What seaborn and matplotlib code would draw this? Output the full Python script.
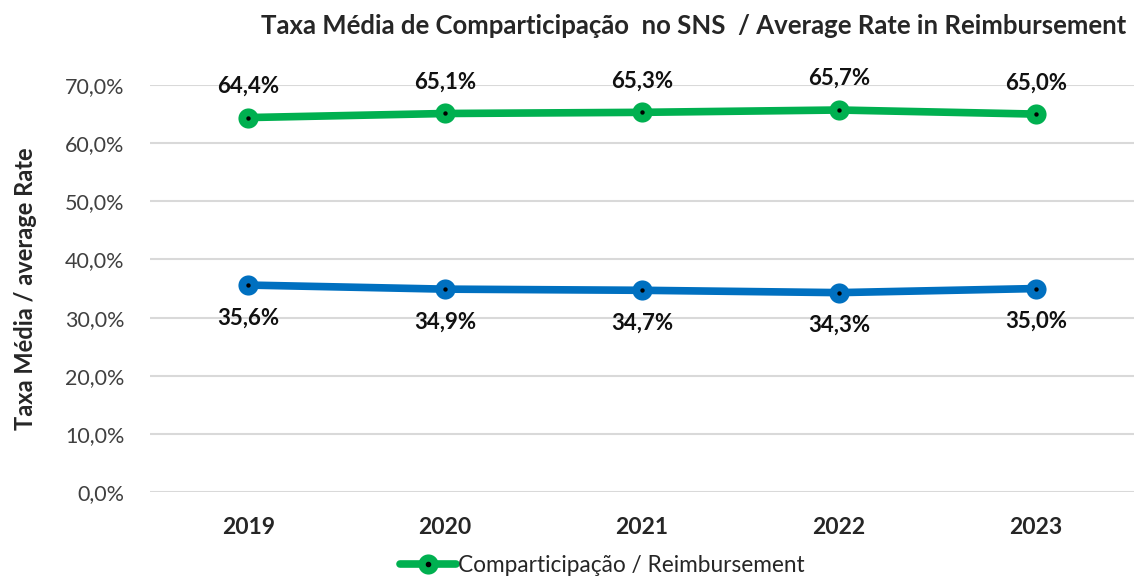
import pandas as pd
import matplotlib
import matplotlib.pyplot as plt
import seaborn as sns
from matplotlib.lines import Line2D
from matplotlib.ticker import FuncFormatter

matplotlib.use('Agg')

# values
years = ['2019', '2020', '2021', '2022', '2023']
reimbursement = [64.4, 65.1, 65.3, 65.7, 65.0]
user_share = [35.6, 34.9, 34.7, 34.3, 35.0]

green = '#00B050'
blue = '#0070C0'

df = pd.DataFrame({
    'Ano': years * 2,
    'Taxa': [v / 100 for v in reimbursement + user_share],
    'Serie': ['reimb'] * 5 + ['user'] * 5,
})

sns.set_style('white')
plt.rcParams['font.family'] = ['Lato', 'DejaVu Sans']

fig = plt.figure(figsize=(11.43, 5.81), dpi=100)
ax = fig.add_axes([0.131, 0.153, 0.8615, 0.7007])

sns.lineplot(data=df, x='Ano', y='Taxa', hue='Serie',
             palette={'reimb': green, 'user': blue},
             linewidth=5.5, marker='o', markersize=14.5, markeredgewidth=0,
             legend=False, ax=ax, zorder=3)
# small black dot at the centre of each marker
sns.scatterplot(data=df, x='Ano', y='Taxa', color='black', s=10,
                linewidth=0, legend=False, ax=ax, zorder=4)

ax.set_ylim(0, 0.70)
ax.set_xlim(-0.5, 4.5)
ax.set_yticks([i / 10 for i in range(8)])
ax.yaxis.set_major_formatter(FuncFormatter(lambda v, p: f'{v * 100:.1f}%'.replace('.', ',')))
ax.grid(axis='y', color='#D9D9D9', linewidth=1.5)
ax.grid(axis='x', visible=False)
for s in ax.spines.values():
    s.set_visible(False)
ax.tick_params(axis='y', labelsize=15.5, labelcolor='#404040', length=0, pad=18)
ax.tick_params(axis='x', labelsize=16.5, length=0, pad=18)
for t in ax.get_xticklabels():
    t.set_fontweight('bold')

ax.set_xlabel('')
ax.set_ylabel('Taxa Média / average Rate', fontsize=17, fontweight='bold', labelpad=20)

# data labels
for i, v in enumerate(reimbursement):
    ax.annotate(f'{v:.1f}%'.replace('.', ','), (i, v / 100), xytext=(0, 15),
                textcoords='offset points', ha='center', va='bottom',
                fontsize=16, fontweight='bold', color='#111111')
for i, v in enumerate(user_share):
    ax.annotate(f'{v:.1f}%'.replace('.', ','), (i, v / 100), xytext=(0, -16),
                textcoords='offset points', ha='center', va='top',
                fontsize=16, fontweight='bold', color='#111111')

fig.text(0.985, 0.955, 'Taxa Média de Comparticipação  no SNS  / Average Rate in Reimbursement',
         ha='right', va='center', fontsize=18.5, fontweight='bold')

h_line = Line2D([], [], color=green, linewidth=5.5, marker='o', markersize=14.5, markeredgewidth=0)
h_dot = Line2D([], [], color='black', linestyle='none', marker='o', markersize=3)
fig.legend([(h_line, h_dot)], ['Comparticipação / Reimbursement'],
           loc='center', bbox_to_anchor=(0.527, 0.027), frameon=False,
           fontsize=16.3, handlelength=2.5, handletextpad=0.1)

fig.savefig('out.png', dpi=100)
